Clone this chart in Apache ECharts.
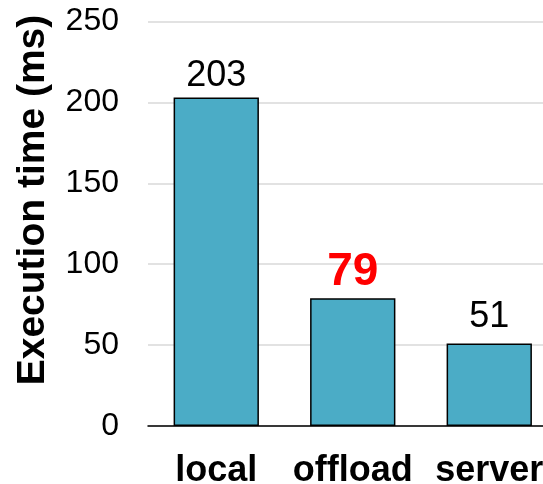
<!DOCTYPE html>
<html><head><meta charset="utf-8">
<script src="https://cdn.jsdelivr.net/npm/echarts@6/dist/echarts.min.js"></script>
<style>html,body{margin:0;padding:0;background:#fff}#c{width:543px;height:484px}</style>
</head><body><div id="c"></div>
<script>
const categories = ['local', 'offload', 'server'];
const values = [203, 79, 51];
const yTicks = [0, 50, 100, 150, 200, 250];
const yTitle = 'Execution time (ms)';
const highlightIndex = 1;

const chart = echarts.init(document.getElementById('c'));
const font = 'Liberation Sans, Arial, sans-serif';
chart.setOption({
  animation: false,
  grid: { left: 148, width: 409.5, top: 21.5, height: 404.5, containLabel: false, outerBoundsMode: 'none' },
  xAxis: {
    type: 'category', data: categories,
    axisLine: { lineStyle: { color: '#000', width: 1.5 } },
    axisTick: { show: false },
    axisLabel: { fontFamily: font, fontSize: 36, fontWeight: 'bold', color: '#000', margin: 27, interval: 0 }
  },
  yAxis: {
    type: 'value', min: yTicks[0], max: yTicks[yTicks.length - 1], interval: 50,
    axisLine: { show: false }, axisTick: { show: false },
    axisLabel: { fontFamily: font, fontSize: 32, color: '#000', margin: 29 },
    splitLine: { lineStyle: { color: '#d9d9d9', width: 1.5 } }
  },
  graphic: [{
    type: 'text', x: 33, y: 200, rotation: Math.PI / 2,
    style: { text: yTitle, fontFamily: font, fontSize: 39, fontWeight: 'bold', fill: '#000', textAlign: 'center', textVerticalAlign: 'middle' }
  }],
  series: [{
    type: 'bar', barWidth: '62.5%',
    data: values.map((v, i) => i === highlightIndex ? {
      value: v,
      label: { fontSize: 46, fontWeight: 'bold', color: '#ff0000' }
    } : (i === 2 ? { value: v, label: { distance: 8 } } : v)),
    itemStyle: { color: '#4BACC6', borderColor: '#000', borderWidth: 1.5 },
    label: { show: true, position: 'top', distance: 3, fontFamily: font, fontSize: 36, color: '#000' }
  }]
});
</script></body></html>
